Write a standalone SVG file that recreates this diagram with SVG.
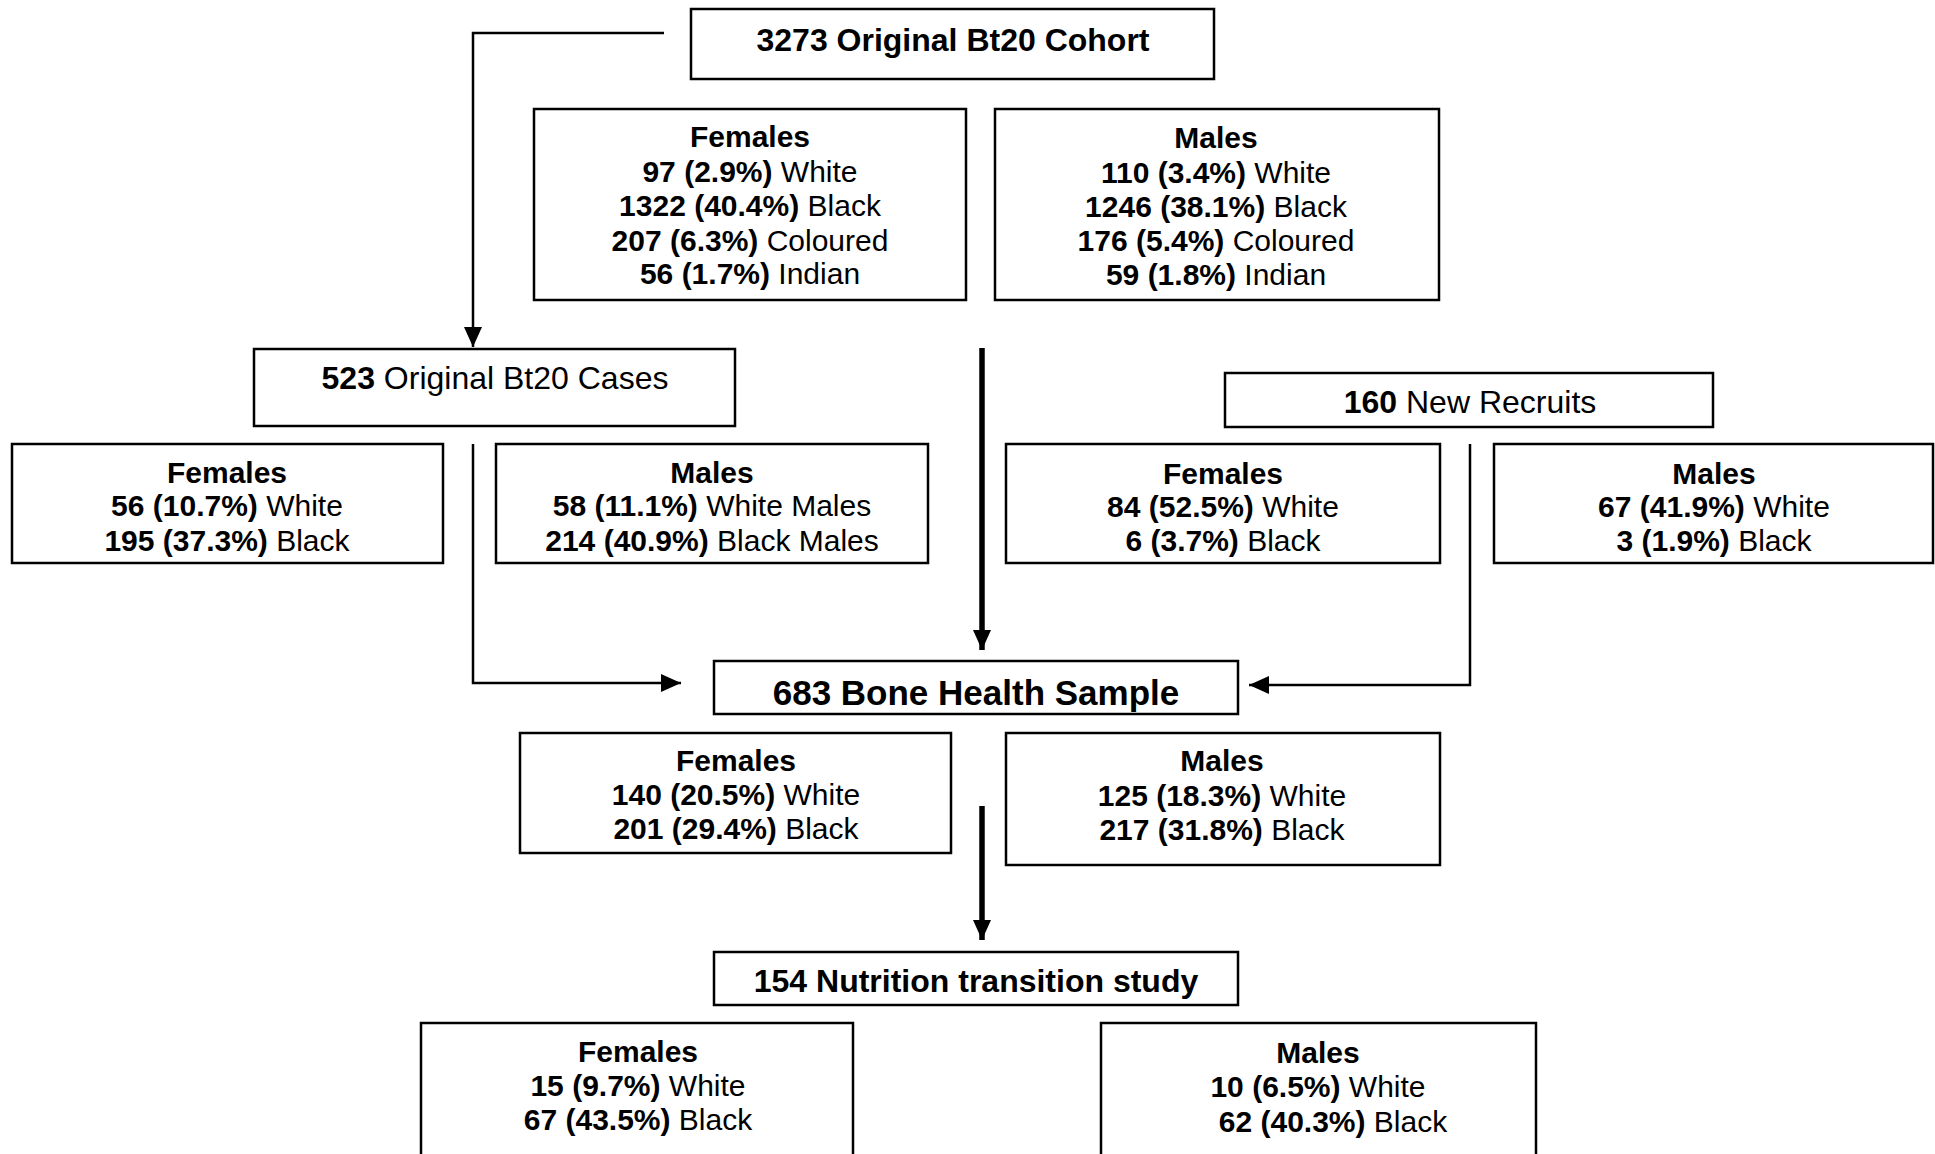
<svg xmlns="http://www.w3.org/2000/svg" width="1935" height="1154" viewBox="0 0 1935 1154">
<defs>
<style>
.box{fill:#fff;stroke:#000;stroke-width:2.5}
.t{font-family:"Liberation Sans",Arial,sans-serif;font-size:30px;fill:#000;text-anchor:middle}
.h{font-weight:bold}
.big{font-size:32px}
.huge{font-size:35px}
.thin{fill:none;stroke:#000;stroke-width:2.5}
.thick{fill:none;stroke:#000;stroke-width:5.5}
</style>
<marker id="ah" markerUnits="userSpaceOnUse" markerWidth="20" markerHeight="20" viewBox="0 0 20 20" refX="20" refY="10" orient="auto">
<path d="M0,1 L20,10 L0,19 Z" fill="#000"/>
</marker>
</defs>
<rect width="1935" height="1154" fill="#fff"/>

<g id="connectors">
<polyline class="thin" points="664,33 473,33 473,347" marker-end="url(#ah)"/>
<polyline class="thin" points="473,444 473,683 681,683" marker-end="url(#ah)"/>
<polyline class="thin" points="1470,444 1470,685 1249,685" marker-end="url(#ah)"/>
<line class="thick" x1="982" y1="348" x2="982" y2="650" marker-end="url(#ah)"/>
<line class="thick" x1="982" y1="806" x2="982" y2="940" marker-end="url(#ah)"/>
</g>

<g id="cohort">
<rect class="box" x="691" y="9" width="523" height="70"/>
<text class="t h big" x="953" y="51">3273 Original Bt20 Cohort</text>
</g>
<g id="cohort-females">
<rect class="box" x="534" y="109" width="432" height="191"/>
<text class="t" x="750" y="147"><tspan class="h">Females</tspan></text>
<text class="t" x="750" y="182"><tspan class="h">97 (2.9%)</tspan> White</text>
<text class="t" x="750" y="216"><tspan class="h">1322 (40.4%)</tspan> Black</text>
<text class="t" x="750" y="251"><tspan class="h">207 (6.3%)</tspan> Coloured</text>
<text class="t" x="750" y="284"><tspan class="h">56 (1.7%)</tspan> Indian</text>
</g>
<g id="cohort-males">
<rect class="box" x="995" y="109" width="444" height="191"/>
<text class="t" x="1216" y="148"><tspan class="h">Males</tspan></text>
<text class="t" x="1216" y="183"><tspan class="h">110 (3.4%)</tspan> White</text>
<text class="t" x="1216" y="217"><tspan class="h">1246 (38.1%)</tspan> Black</text>
<text class="t" x="1216" y="251"><tspan class="h">176 (5.4%)</tspan> Coloured</text>
<text class="t" x="1216" y="285"><tspan class="h">59 (1.8%)</tspan> Indian</text>
</g>

<g id="cases">
<rect class="box" x="254" y="349" width="481" height="77"/>
<text class="t big" x="495" y="389"><tspan class="h">523</tspan> Original Bt20 Cases</text>
</g>
<g id="cases-females">
<rect class="box" x="12" y="444" width="431" height="119"/>
<text class="t" x="227" y="483"><tspan class="h">Females</tspan></text>
<text class="t" x="227" y="516"><tspan class="h">56 (10.7%)</tspan> White</text>
<text class="t" x="227" y="551"><tspan class="h">195 (37.3%)</tspan> Black</text>
</g>
<g id="cases-males">
<rect class="box" x="496" y="444" width="432" height="119"/>
<text class="t" x="712" y="483"><tspan class="h">Males</tspan></text>
<text class="t" x="712" y="516"><tspan class="h">58 (11.1%)</tspan> White Males</text>
<text class="t" x="712" y="551"><tspan class="h">214 (40.9%)</tspan> Black Males</text>
</g>

<g id="recruits">
<rect class="box" x="1225" y="373" width="488" height="54"/>
<text class="t big" x="1470" y="413"><tspan class="h">160</tspan> New Recruits</text>
</g>
<g id="recruits-females">
<rect class="box" x="1006" y="444" width="434" height="119"/>
<text class="t" x="1223" y="484"><tspan class="h">Females</tspan></text>
<text class="t" x="1223" y="517"><tspan class="h">84 (52.5%)</tspan> White</text>
<text class="t" x="1223" y="551"><tspan class="h">6 (3.7%)</tspan> Black</text>
</g>
<g id="recruits-males">
<rect class="box" x="1494" y="444" width="439" height="119"/>
<text class="t" x="1714" y="484"><tspan class="h">Males</tspan></text>
<text class="t" x="1714" y="517"><tspan class="h">67 (41.9%)</tspan> White</text>
<text class="t" x="1714" y="551"><tspan class="h">3 (1.9%)</tspan> Black</text>
</g>

<g id="bone-health">
<rect class="box" x="714" y="661" width="524" height="53"/>
<text class="t h huge" x="976" y="705">683 Bone Health Sample</text>
</g>
<g id="bone-females">
<rect class="box" x="520" y="733" width="431" height="120"/>
<text class="t" x="736" y="771"><tspan class="h">Females</tspan></text>
<text class="t" x="736" y="805"><tspan class="h">140 (20.5%)</tspan> White</text>
<text class="t" x="736" y="839"><tspan class="h">201 (29.4%)</tspan> Black</text>
</g>
<g id="bone-males">
<rect class="box" x="1006" y="733" width="434" height="132"/>
<text class="t" x="1222" y="771"><tspan class="h">Males</tspan></text>
<text class="t" x="1222" y="806"><tspan class="h">125 (18.3%)</tspan> White</text>
<text class="t" x="1222" y="840"><tspan class="h">217 (31.8%)</tspan> Black</text>
</g>

<g id="nutrition">
<rect class="box" x="714" y="952" width="524" height="53"/>
<text class="t h big" x="976" y="992">154 Nutrition transition study</text>
</g>
<g id="nutrition-females">
<rect class="box" x="421" y="1023" width="432" height="150"/>
<text class="t" x="638" y="1062"><tspan class="h">Females</tspan></text>
<text class="t" x="638" y="1096"><tspan class="h">15 (9.7%)</tspan> White</text>
<text class="t" x="638" y="1130"><tspan class="h">67 (43.5%)</tspan> Black</text>
</g>
<g id="nutrition-males">
<rect class="box" x="1101" y="1023" width="435" height="150"/>
<text class="t" x="1318" y="1063"><tspan class="h">Males</tspan></text>
<text class="t" x="1318" y="1097"><tspan class="h">10 (6.5%)</tspan> White</text>
<text class="t" x="1333" y="1132"><tspan class="h">62 (40.3%)</tspan> Black</text>
</g>
</svg>
